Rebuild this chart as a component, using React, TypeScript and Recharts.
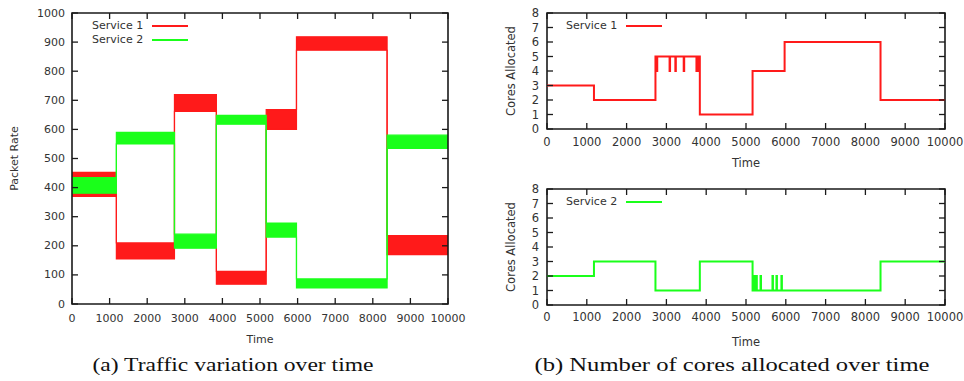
import { Area, ComposedChart, Legend, Line, LineChart, ReferenceArea, XAxis, YAxis } from "recharts";

// time axis
const TIME_TICKS = [0, 1000, 2000, 3000, 4000, 5000, 6000, 7000, 8000, 9000, 10000];
const TIME_END = 10000;

// (a) packet rate: segment starts and noisy band (low / high) per segment
const SEGMENT_STARTS = [0, 1180, 2725, 3840, 5165, 5970, 8380];
const S1_RATE_LOW = [370, 155, 662, 68, 600, 872, 170];
const S1_RATE_HIGH = [452, 210, 720, 112, 668, 918, 235];
const S2_RATE_LOW = [381, 550, 192, 618, 230, 55, 535];
const S2_RATE_HIGH = [434, 590, 240, 648, 278, 86, 580];
const RATE_TICKS = [0, 100, 200, 300, 400, 500, 600, 700, 800, 900, 1000];

// (b) cores allocated: change points
const S1_CORE_TIMES = [0, 1180, 2725, 2738, 2748, 2760, 2770, 3080, 3092, 3225, 3237, 3435, 3447, 3755, 3768, 3800, 3812, 3840, 5165, 5970, 8380];
const S1_CORE_VALUES = [3, 2, 5, 4, 5, 4, 5, 4, 5, 4, 5, 4, 5, 4, 5, 4, 5, 1, 4, 6, 2];
const S2_CORE_TIMES = [0, 1180, 2725, 3840, 5165, 5185, 5195, 5222, 5232, 5262, 5272, 5365, 5377, 5665, 5677, 5765, 5777, 5890, 5902, 8380];
const S2_CORE_VALUES = [2, 3, 1, 3, 1, 2, 1, 2, 1, 2, 1, 2, 1, 2, 1, 2, 1, 2, 1, 3];
const CORE_TICKS = [0, 1, 2, 3, 4, 5, 6, 7, 8];

const RED = "#ff1a1a";
const GREEN = "#1aff1a";
const FONT = "'DejaVu Sans', sans-serif";
const TEXT = "#333";
const INK = "#1a1a1a";

const rateData = [...SEGMENT_STARTS, TIME_END].map((t, i) => {
  const k = Math.min(i, SEGMENT_STARTS.length - 1);
  return { t, s1: [S1_RATE_LOW[k], S1_RATE_HIGH[k]], s2: [S2_RATE_LOW[k], S2_RATE_HIGH[k]] };
});

const steps = (times: number[], values: number[]) =>
  [...times, TIME_END].map((t, i) => ({ t, cores: values[Math.min(i, values.length - 1)] }));

const s1Cores = steps(S1_CORE_TIMES, S1_CORE_VALUES);
const s2Cores = steps(S2_CORE_TIMES, S2_CORE_VALUES);

type Box = { left: number; right: number; top: number; bottom: number };

// plot boxes in chart pixels (follow from the margins / axis sizes below)
const BOX_A: Box = { left: 72, right: 448, top: 13, bottom: 304 };
const BOX_B: Box = { left: 57, right: 455, top: 13, bottom: 129 };
const BOX_C: Box = { left: 57, right: 455, top: 19, bottom: 135 };

const KeyBox = ({ payload }: any) => (
  <div style={{ fontFamily: FONT, fontSize: 11, color: TEXT, lineHeight: "14.3px" }}>
    {(payload ?? []).map((p: any) => (
      <div key={p.value} style={{ display: "flex", alignItems: "center", height: 14.3 }}>
        <span>{p.value}</span>
        <span style={{ width: 36, borderTop: `2px solid ${p.color}`, marginLeft: 9 }} />
      </div>
    ))}
  </div>
);

// gnuplot style: inward ticks on both the bottom and the mirrored top edge
const TimeTick = (p: any) => {
  const box: Box = p.box;
  return (
    <g>
      <line x1={p.x} x2={p.x} y1={box.bottom} y2={box.bottom - 6} stroke={INK} strokeWidth={1.3} />
      <line x1={p.x} x2={p.x} y1={box.top} y2={box.top + 6} stroke={INK} strokeWidth={1.3} />
      <text x={p.x} y={box.bottom + p.gap} textAnchor="middle" dominantBaseline="central" fill={TEXT} fontSize={p.size} fontFamily={FONT}>
        {p.payload.value}
      </text>
    </g>
  );
};

// same on the left edge and the mirrored right edge
const ValueTick = (p: any) => {
  const box: Box = p.box;
  return (
    <g>
      <line x1={box.left} x2={box.left + 6} y1={p.y} y2={p.y} stroke={INK} strokeWidth={1.3} />
      <line x1={box.right} x2={box.right - 6} y1={p.y} y2={p.y} stroke={INK} strokeWidth={1.3} />
      <text x={box.left - p.gap} y={p.y} textAnchor="end" dominantBaseline="central" fill={TEXT} fontSize={p.size} fontFamily={FONT}>
        {p.payload.value}
      </text>
    </g>
  );
};

interface FrameOpts {
  box: Box;
  ticksY: number[];
  maxY: number;
  size: number;
  yLabel: string;
  yDx: number;
  xHeight: number;
  xDy: number;
  xGap: number;
  yGap: number;
}

const frame = (o: FrameOpts) => [
  <XAxis
    key="x"
    dataKey="t"
    type="number"
    domain={[0, TIME_END]}
    allowDataOverflow
    ticks={TIME_TICKS}
    interval={0}
    height={o.xHeight}
    axisLine={false}
    tickLine={false}
    tick={(p: any) => <TimeTick {...p} box={o.box} size={o.size} gap={o.xGap} />}
    label={{ value: "Time", position: "center", dy: o.xDy, fill: TEXT, fontSize: o.size, fontFamily: FONT }}
  />,
  <YAxis
    key="y"
    type="number"
    domain={[0, o.maxY]}
    allowDataOverflow
    ticks={o.ticksY}
    interval={0}
    width={o.box.left}
    axisLine={false}
    tickLine={false}
    tick={(p: any) => <ValueTick {...p} box={o.box} size={o.size} gap={o.yGap} />}
    label={{ value: o.yLabel, angle: -90, position: "center", dx: o.yDx, fill: TEXT, fontSize: o.size, fontFamily: FONT }}
  />,
  <ReferenceArea
    key="frame"
    x1={0}
    x2={TIME_END}
    y1={0}
    y2={o.maxY}
    fill="none"
    stroke={INK}
    strokeWidth={1.6}
    ifOverflow="visible"
  />,
];

const Caption = ({ x, text, length }: { x: number; text: string; length: number }) => (
  <text
    x={x}
    y={26}
    textAnchor="middle"
    textLength={length}
    lengthAdjust="spacingAndGlyphs"
    fontFamily="'Liberation Serif', 'Times New Roman', serif"
    fontSize={19}
    fill="#111"
  >
    {text}
  </text>
);

export default function App() {
  return (
    <div style={{ position: "absolute", left: 0, top: 0, width: 964, height: 381, background: "#fff" }}>
      <div style={{ position: "absolute", left: 0, top: 0 }}>
        <ComposedChart width={480} height={345} data={rateData} margin={{ top: 13, right: 32, left: 0, bottom: 0 }}>
          <Area
            dataKey="s1"
            name="Service 1"
            type="stepAfter"
            stroke={RED}
            strokeWidth={1.2}
            fill={RED}
            fillOpacity={1}
            isAnimationActive={false}
          />
          <Area
            dataKey="s2"
            name="Service 2"
            type="stepAfter"
            stroke={GREEN}
            strokeWidth={1.2}
            fill={GREEN}
            fillOpacity={1}
            isAnimationActive={false}
          />
          {frame({
            box: BOX_A,
            ticksY: RATE_TICKS,
            maxY: 1000,
            size: 11,
            yLabel: "Packet Rate",
            yDx: -22,
            xHeight: 41,
            xDy: 14.5,
            xGap: 14,
            yGap: 7,
          })}
          <Legend
            layout="horizontal"
            verticalAlign="middle"
            align="center"
            content={KeyBox}
            wrapperStyle={{ position: "absolute", left: 92, top: 18.5, width: "auto" }}
          />
        </ComposedChart>
      </div>

      <div style={{ position: "absolute", left: 490, top: 0 }}>
        <LineChart width={474} height={170} data={s1Cores} margin={{ top: 13, right: 19, left: 0, bottom: 0 }}>
          <Line
            dataKey="cores"
            name="Service 1"
            type="stepAfter"
            stroke={RED}
            strokeWidth={2}
            dot={false}
            isAnimationActive={false}
          />
          {frame({
            box: BOX_B,
            ticksY: CORE_TICKS,
            maxY: 8,
            size: 11.5,
            yLabel: "Cores Allocated",
            yDx: -8,
            xHeight: 41,
            xDy: 13.5,
            xGap: 13,
            yGap: 8,
          })}
          <Legend
            layout="horizontal"
            verticalAlign="middle"
            align="center"
            content={KeyBox}
            wrapperStyle={{ position: "absolute", left: 76, top: 18.5, width: "auto" }}
          />
        </LineChart>
      </div>

      <div style={{ position: "absolute", left: 490, top: 170 }}>
        <LineChart width={474} height={181} data={s2Cores} margin={{ top: 19, right: 19, left: 0, bottom: 0 }}>
          <Line
            dataKey="cores"
            name="Service 2"
            type="stepAfter"
            stroke={GREEN}
            strokeWidth={2}
            dot={false}
            isAnimationActive={false}
          />
          {frame({
            box: BOX_C,
            ticksY: CORE_TICKS,
            maxY: 8,
            size: 11.5,
            yLabel: "Cores Allocated",
            yDx: -8,
            xHeight: 46,
            xDy: 14,
            xGap: 12,
            yGap: 8,
          })}
          <Legend
            layout="horizontal"
            verticalAlign="middle"
            align="center"
            content={KeyBox}
            wrapperStyle={{ position: "absolute", left: 76, top: 24.5, width: "auto" }}
          />
        </LineChart>
      </div>

      <svg width={964} height={36} style={{ position: "absolute", left: 0, top: 345 }}>
        <Caption x={233} text="(a) Traffic variation over time" length={281} />
        <Caption x={732} text="(b) Number of cores allocated over time" length={395} />
      </svg>
    </div>
  );
}
